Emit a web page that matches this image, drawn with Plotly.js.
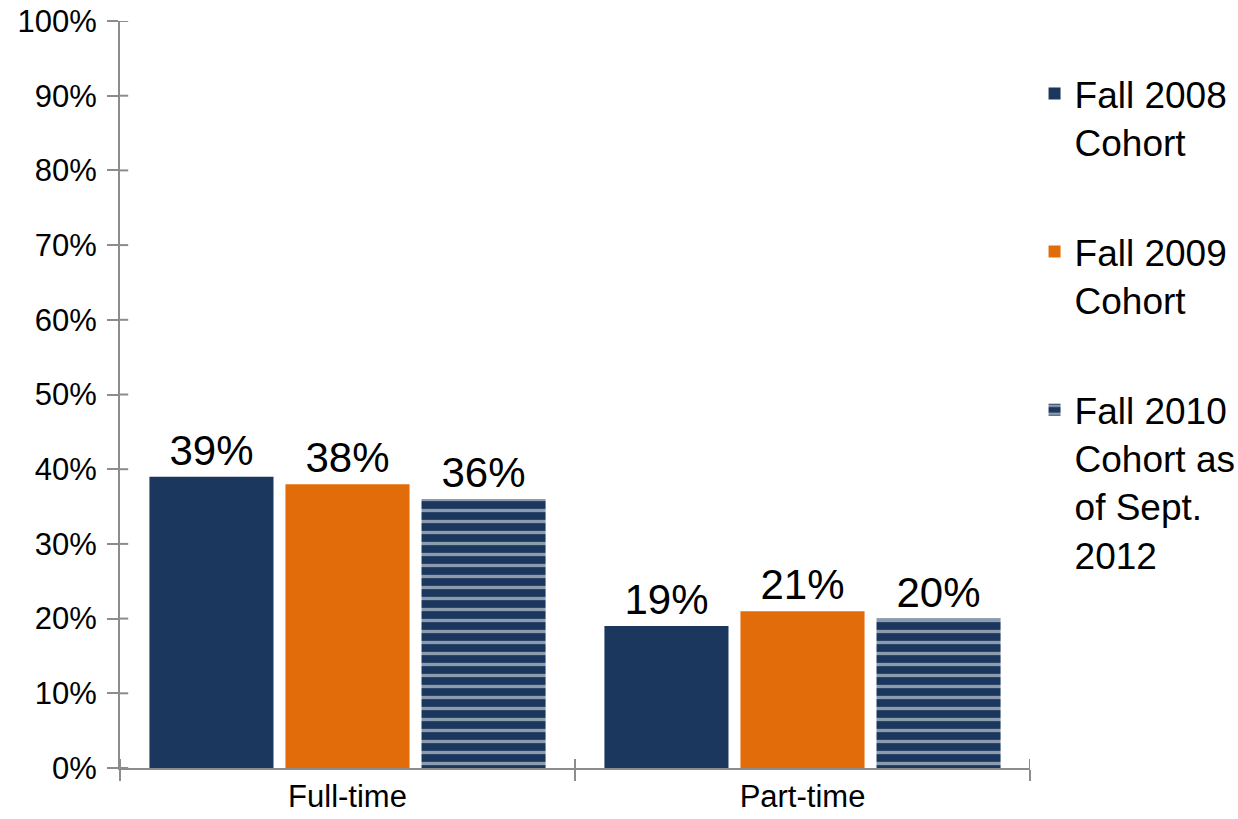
<!DOCTYPE html>
<html>
<head>
<meta charset="utf-8">
<script src="https://cdn.plot.ly/plotly-3.0.1.min.js"></script>
<style>
html,body{margin:0;padding:0;background:#fff;}
#chart{width:1238px;height:819px;}
</style>
</head>
<body>
<div id="chart"></div>
<script>
const categories = ["Full-time", "Part-time"];
const seriesNames = ["Fall 2008<br>Cohort", "Fall 2009<br>Cohort", "Fall 2010<br>Cohort as<br>of Sept.<br>2012"];
const fall2008 = [39, 19];
const fall2009 = [38, 21];
const fall2010 = [36, 20];
const yTickVals = [0, 10, 20, 30, 40, 50, 60, 70, 80, 90, 100];
const yTickText = ["0%", "10%", "20%", "30%", "40%", "50%", "60%", "70%", "80%", "90%", "100%"];

const navy = "#1b375e";
const orange = "#e36c0a";
const axisGray = "#8c8c8c";
const labelFont = {family: "Liberation Sans, Arial, sans-serif", size: 42, color: "#000"};

function pct(arr){ return arr.map(v => v + "%"); }

const traces = [
  {type: "bar", name: seriesNames[0], x: categories, y: fall2008, legendgroup: "a",
   marker: {color: navy}, text: pct(fall2008), textposition: "outside", textfont: labelFont, cliponaxis: false},
  {type: "bar", name: seriesNames[1], x: categories, y: fall2009, legendgroup: "b",
   marker: {color: orange}, text: pct(fall2009), textposition: "outside", textfont: labelFont, cliponaxis: false},
  {type: "bar", name: seriesNames[2], x: categories, y: fall2010, legendgroup: "c",
   marker: {color: navy, pattern: {shape: "-", fgcolor: "#ffffff", size: 11, solidity: 0.3, fillmode: "overlay"}},
   text: pct(fall2010), textposition: "outside", textfont: labelFont, cliponaxis: false}
];

// inner halves of the tick marks (ticks cross the axis lines in the original)
const shapes = [];
yTickVals.forEach(v => shapes.push({type: "line", xref: "x domain", yref: "y", x0: 0, x1: 0.009, y0: v, y1: v,
  line: {color: axisGray, width: 2}, layer: "above"}));
categories.concat([null]).forEach((c, i) => shapes.push({type: "line", xref: "x", yref: "y domain",
  x0: i - 0.5, x1: i - 0.5, y0: 0, y1: 0.012, line: {color: axisGray, width: 2}, layer: "above"}));

const layout = {
  width: 1238, height: 819,
  margin: {l: 120, r: 208, t: 21, b: 51, autoexpand: false},
  paper_bgcolor: "#fff", plot_bgcolor: "#fff",
  font: {family: "Liberation Sans, Arial, sans-serif", color: "#000"},
  barmode: "group", bargap: 0.103, bargroupgap: 0.088,
  showlegend: true,
  legend: {x: 1.005, xanchor: "left", y: 0.944, yanchor: "top", valign: "top",
           font: {size: 37, color: "#000"}, tracegroupgap: 59, bgcolor: "rgba(0,0,0,0)"},
  xaxis: {type: "category", range: [-0.5, 1.5], showline: true, linecolor: axisGray, linewidth: 2,
          ticks: "outside", tickson: "boundaries", ticklen: 11, tickcolor: axisGray, tickwidth: 2,
          tickfont: {size: 31, color: "#000"}, showgrid: false, zeroline: false, fixedrange: true},
  yaxis: {range: [0, 100], tickvals: yTickVals, ticktext: yTickText, showline: true, linecolor: axisGray, linewidth: 2,
          ticks: "outside", ticklen: 11, tickcolor: axisGray, tickwidth: 2, ticklabelstandoff: 4,
          tickfont: {size: 31, color: "#000"}, showgrid: false, zeroline: false, fixedrange: true},
  shapes: shapes
};

Plotly.newPlot("chart", traces, layout, {displayModeBar: false, staticPlot: true});
</script>
</body>
</html>
